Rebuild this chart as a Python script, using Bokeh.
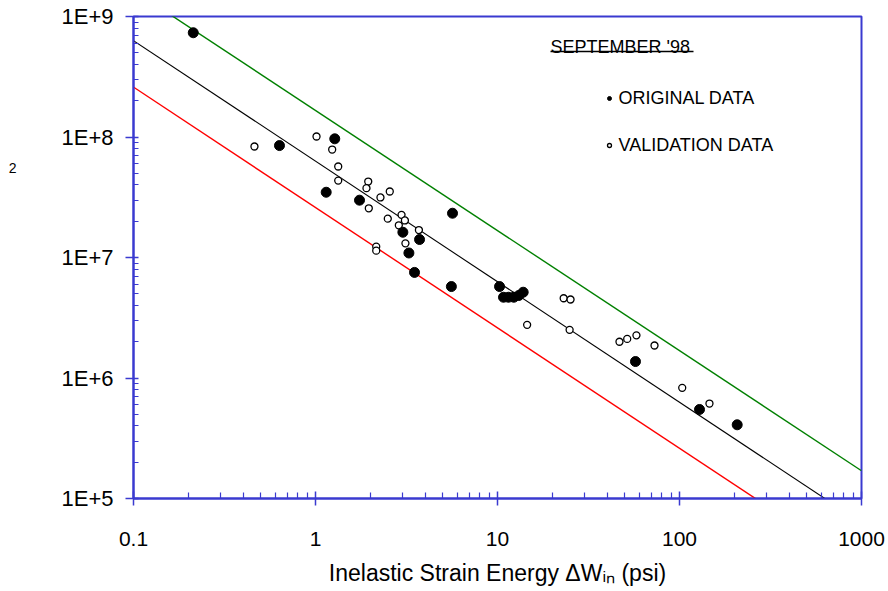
from bokeh.plotting import figure
from bokeh.models import FixedTicker, Label, Legend, LegendItem, Range1d, LogAxis
from bokeh.embed import file_html
from bokeh.resources import INLINE
import math

# ---------------- data ----------------
orig_W = [0.213, 0.634, 1.276, 1.145, 1.745, 3.02, 3.73, 3.26, 3.50, 5.66,
          5.58, 10.26, 10.79, 11.49, 12.29, 13.1, 13.84, 57.3, 128.8, 207.5]
orig_N = [7.33e8, 8.49e7, 9.66e7, 3.48e7, 2.99e7, 1.62e7, 1.41e7, 1.09e7, 7.52e6, 2.33e7,
          5.74e6, 5.74e6, 4.68e6, 4.68e6, 4.68e6, 4.84e6, 5.15e6, 1.37e6, 5.48e5, 4.09e5]

val_W = [0.462, 1.013, 1.235, 1.333, 1.333, 1.949, 1.906, 2.559, 2.275, 1.963,
         2.97, 3.10, 2.496, 2.87, 3.70, 3.12, 2.156, 2.156, 23.1, 25.2,
         14.55, 24.9, 46.8, 51.6, 58.0, 72.9, 103.5, 146.1]
val_N = [8.34e7, 1.01e8, 7.87e7, 5.69e7, 4.35e7, 4.27e7, 3.76e7, 3.53e7, 3.15e7, 2.56e7,
         2.26e7, 2.03e7, 2.10e7, 1.85e7, 1.69e7, 1.31e7, 1.23e7, 1.14e7, 4.59e6, 4.48e6,
         2.76e6, 2.51e6, 2.0e6, 2.11e6, 2.26e6, 1.86e6, 8.29e5, 6.14e5]

# fitted / bounding lines (end points)
upper_W = [0.146, 1000]
upper_N = [1.13e9, 1.7e5]
mean_W = [0.0927, 676]
mean_N = [6.8e8, 9.3e4]
lower_W = [0.0927, 297]
lower_N = [2.8e8, 8.8e4]

x_ticks = [0.1, 1, 10, 100, 1000]
x_tick_labels = ["0.1", "1", "10", "100", "1000"]
y_ticks = [1e5, 1e6, 1e7, 1e8, 1e9]
y_tick_labels = ["1E+5", "1E+6", "1E+7", "1E+8", "1E+9"]

title_text = "SEPTEMBER '98"
legend_labels = ["ORIGINAL DATA", "VALIDATION DATA"]
x_label = "Inelastic Strain Energy \u0394W\u1d62\u2099 (psi)"
stray_label = "2"
stray_label_at = 55800000   # height (in y units) of the stray "2" at the left

# ---------------- layout ----------------
FONT = "Liberation Sans"
BLUE = "#3a3ad0"
W, H = 888, 591
BL, BR, BT, BB = 133, 27, 16, 93
FW, FH = W - BL - BR, H - BT - BB     # 728 x 482
X0, X1 = 0.1, 1000
Y0, Y1 = 1e5, 1e9
DX = math.log10(X1) - math.log10(X0)
DY = math.log10(Y1) - math.log10(Y0)
BASE_FIX = 6.5   # label baseline correction (px)


def px(xp, yp):
    """picture pixel -> data coordinates"""
    fx = xp - BL
    fy = yp - BT
    return (10 ** (math.log10(X0) + fx / FW * DX),
            10 ** (math.log10(Y1) - fy / FH * DY))


p = figure(width=W, height=H, x_axis_type="log", y_axis_type="log",
           output_backend="svg", toolbar_location=None,
           min_border_left=BL, min_border_right=BR,
           min_border_top=BT, min_border_bottom=BB)
p.x_range = Range1d(X0, X1)
p.y_range = Range1d(Y0, Y1)
p.xgrid.visible = False
p.ygrid.visible = False
p.outline_line_color = BLUE
p.outline_line_width = 2
p.background_fill_color = "white"
p.border_fill_color = "white"

x_minor = [m * 10 ** k for k in range(-1, 3) for m in range(2, 10)]
y_minor = [m * 10 ** k for k in range(5, 9) for m in range(2, 10)]
p.xaxis.ticker = FixedTicker(ticks=x_ticks, minor_ticks=x_minor)
p.yaxis.ticker = FixedTicker(ticks=y_ticks, minor_ticks=y_minor)
p.xaxis.major_label_overrides = {t: l for t, l in zip(x_ticks, x_tick_labels)}
p.yaxis.major_label_overrides = {t: l for t, l in zip(y_ticks, y_tick_labels)}

for ax in (p.xaxis, p.yaxis):
    ax.axis_line_color = BLUE
    ax.axis_line_width = 2
    ax.major_tick_line_color = BLUE
    ax.minor_tick_line_color = BLUE
    ax.major_tick_line_width = 1.5
    ax.minor_tick_line_width = 1.2
    ax.major_label_text_font = FONT
    ax.major_label_text_color = "black"

p.xaxis.major_tick_in = 7
p.xaxis.major_tick_out = 7
p.xaxis.minor_tick_in = 6
p.xaxis.minor_tick_out = 0
p.xaxis.major_label_standoff = 26
p.xaxis.major_label_text_font_size = "21px"
p.xaxis.axis_label = x_label
p.xaxis.axis_label_text_font = FONT
p.xaxis.axis_label_text_font_style = "normal"
p.xaxis.axis_label_text_font_size = "23px"
p.xaxis.axis_label_text_color = "black"
p.xaxis.axis_label_standoff = 11

p.yaxis.major_tick_in = 5
p.yaxis.major_tick_out = 8
p.yaxis.minor_tick_in = 5
p.yaxis.minor_tick_out = 0
p.yaxis.major_label_standoff = 12
p.yaxis.major_label_text_font_size = "22px"

# extra left axis carrying only the stray "2"
stray_axis = LogAxis(ticker=FixedTicker(ticks=[stray_label_at], minor_ticks=[]),
                     major_label_overrides={stray_label_at: stray_label},
                     axis_line_color=None, major_tick_line_color=None,
                     minor_tick_line_color=None, major_tick_out=0, major_tick_in=0,
                     major_label_standoff=42, major_label_text_font=FONT,
                     major_label_text_font_size="14px", major_label_text_color="black")
p.add_layout(stray_axis, "left")

# lines
p.line(upper_W, upper_N, line_color="#008000", line_width=1.4)
p.line(mean_W, mean_N, line_color="black", line_width=1.1)
p.line(lower_W, lower_N, line_color="#ff0000", line_width=1.4)

# data
r_orig = p.scatter(orig_W, orig_N, marker="circle", size=10,
                   fill_color="black", line_color="black")
r_val = p.scatter(val_W, val_N, marker="circle", size=7,
                  fill_color="white", line_color="black", line_width=1.3)

# legend
legend = Legend(items=[LegendItem(label=legend_labels[0], renderers=[r_orig]),
                       LegendItem(label=legend_labels[1], renderers=[r_val])],
                location=(470.5, 342.5), orientation="vertical",
                glyph_width=10, glyph_height=10, label_standoff=5,
                spacing=26, padding=0, margin=0,
                border_line_alpha=0, background_fill_alpha=0,
                label_text_font=FONT, label_text_font_size="18px",
                label_text_color="black")
p.add_layout(legend, "center")

# title with its strike line
tx, ty = px(550, 52.5 - BASE_FIX)
p.add_layout(Label(x=tx, y=ty, text=title_text, text_font=FONT,
                   text_font_size="18px", text_color="black",
                   text_align="left", text_baseline="alphabetic"))
sx0, sy0 = px(550, 51)
sx1, _ = px(693, 51)
p.segment(x0=[sx0], y0=[sy0], x1=[sx1], y1=[sy0], line_color="black", line_width=1.3)

open("out.html", "w").write(file_html(p, INLINE))
